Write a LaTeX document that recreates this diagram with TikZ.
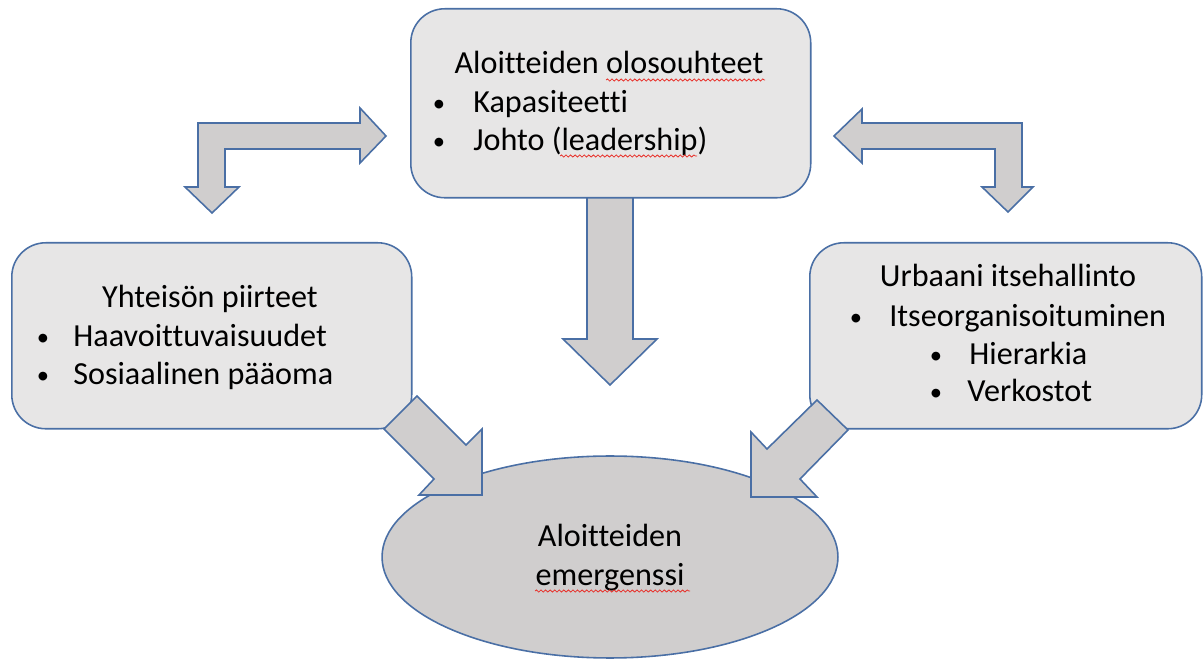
\documentclass[tikz,border=0pt]{standalone}
\usepackage{fontspec}
\setmainfont{Carlito}[Ligatures=NoCommon]
\usetikzlibrary{shapes.geometric,decorations.pathmorphing}

\definecolor{edgeblue}{HTML}{4A6FA5}
\definecolor{boxgray}{HTML}{E7E6E6}
\definecolor{arrowgray}{HTML}{D0CECE}
\definecolor{spellred}{HTML}{E8302A}

\tikzset{
  panel/.style={draw=edgeblue, line width=0.9pt, fill=boxgray,
    rounded corners=0.68cm, anchor=north west, inner sep=0pt},
  outcome/.style={draw=edgeblue, line width=0.9pt, fill=arrowgray,
    ellipse, inner sep=0pt},
  blockarrow/.style={draw=edgeblue, line width=0.9pt, fill=arrowgray,
    line join=miter},
  txt/.style={font=\fontsize{18.3}{22}\selectfont, inner sep=0pt, text=black},
  dot/.style={font=\fontsize{14}{16}\selectfont, inner sep=0pt, text=black},
  squiggle/.style={draw=spellred, line width=0.45pt,
    decorate, decoration={snake, amplitude=0.6pt, segment length=2.6pt}}
}

\begin{document}
\begin{tikzpicture}[x=0.02cm, y=-0.02cm]
  \useasboundingbox (0,0) rectangle (1203,661);

  % vertical block arrow from the top panel down to the outcome
  \draw[blockarrow] (587,190) -- (587,339) -- (563,339) -- (610,385)
    -- (657,339) -- (633,339) -- (633,190) -- cycle;

  % the three panels
  \node[panel, minimum width=8cm, minimum height=3.78cm] (conds) at (410,8) {};
  \node[panel, minimum width=8cm, minimum height=3.72cm] (community) at (11,242) {};
  \node[panel, minimum width=7.84cm, minimum height=3.72cm] (governance) at (809,242) {};

  % the outcome ellipse
  \node[outcome, minimum width=9.12cm, minimum height=4.04cm] (emerg) at (610,557) {};

  % bent two-headed arrows between the top panel and the side panels
  \draw[blockarrow] (198,187) -- (185,187) -- (212,213) -- (239,187)
    -- (225,187) -- (225,149) -- (360,149) -- (360,163) -- (386,136)
    -- (360,108) -- (360,123) -- (198,123) -- cycle;
  \draw[blockarrow] (995,187) -- (982,187) -- (1008,212) -- (1033,187)
    -- (1022,187) -- (1022,123) -- (862,123) -- (862,109) -- (834,136)
    -- (862,163) -- (862,149) -- (995,149) -- cycle;

  % diagonal arrows from the side panels into the ellipse
  \draw[blockarrow] (417,396) -- (466,445) -- (482,429) -- (482,495)
    -- (419,495) -- (434,479) -- (384,429) -- cycle;
  \draw[blockarrow] (817,400) -- (848,430) -- (800,479) -- (817,497)
    -- (751,497) -- (751,432) -- (767,449) -- cycle;

  % top panel text
  \node[txt, anchor=base] (condsTitle) at (609,74) {Aloitteiden olosouhteet};
  \node[dot, anchor=base] (b1) at (439,112) {•};
  \node[txt, anchor=base west] (cap) at (473,113) {Kapasiteetti};
  \node[dot, anchor=base] (b2) at (439,150) {•};
  \node[txt, anchor=base west] (lead) at (473,151) {Johto (leadership)};

  % left panel text
  \node[txt, anchor=base] (commTitle) at (210,308) {Yhteisön piirteet};
  \node[dot, anchor=base] (b3) at (43,346) {•};
  \node[txt, anchor=base west] (vuln) at (73,347) {Haavoittuvaisuudet};
  \node[dot, anchor=base] (b4) at (43,384) {•};
  \node[txt, anchor=base west] (social) at (73,385) {Sosiaalinen pääoma};

  % right panel text
  \node[txt, anchor=base] (govTitle) at (1008,287) {Urbaani itsehallinto};
  \node[dot, anchor=base] (b5) at (856,326) {•};
  \node[txt, anchor=base west] (selforg) at (889,327) {Itseorganisoituminen};
  \node[dot, anchor=base] (b6) at (936,364) {•};
  \node[txt, anchor=base west] (hier) at (969,365) {Hierarkia};
  \node[dot, anchor=base] (b7) at (936,401) {•};
  \node[txt, anchor=base west] (netw) at (967,402) {Verkostot};

  % ellipse text
  \node[txt, anchor=base] (emergA) at (610,547) {Aloitteiden};
  \node[txt, anchor=base] (emergB) at (610,585) {emergenssi};

  % spell-check underlines
  \draw[squiggle] (606,80) -- (765,80);
  \draw[squiggle] (560,156) -- (697,156);
  \draw[squiggle] (535,591) -- (690,591);
\end{tikzpicture}
\end{document}
